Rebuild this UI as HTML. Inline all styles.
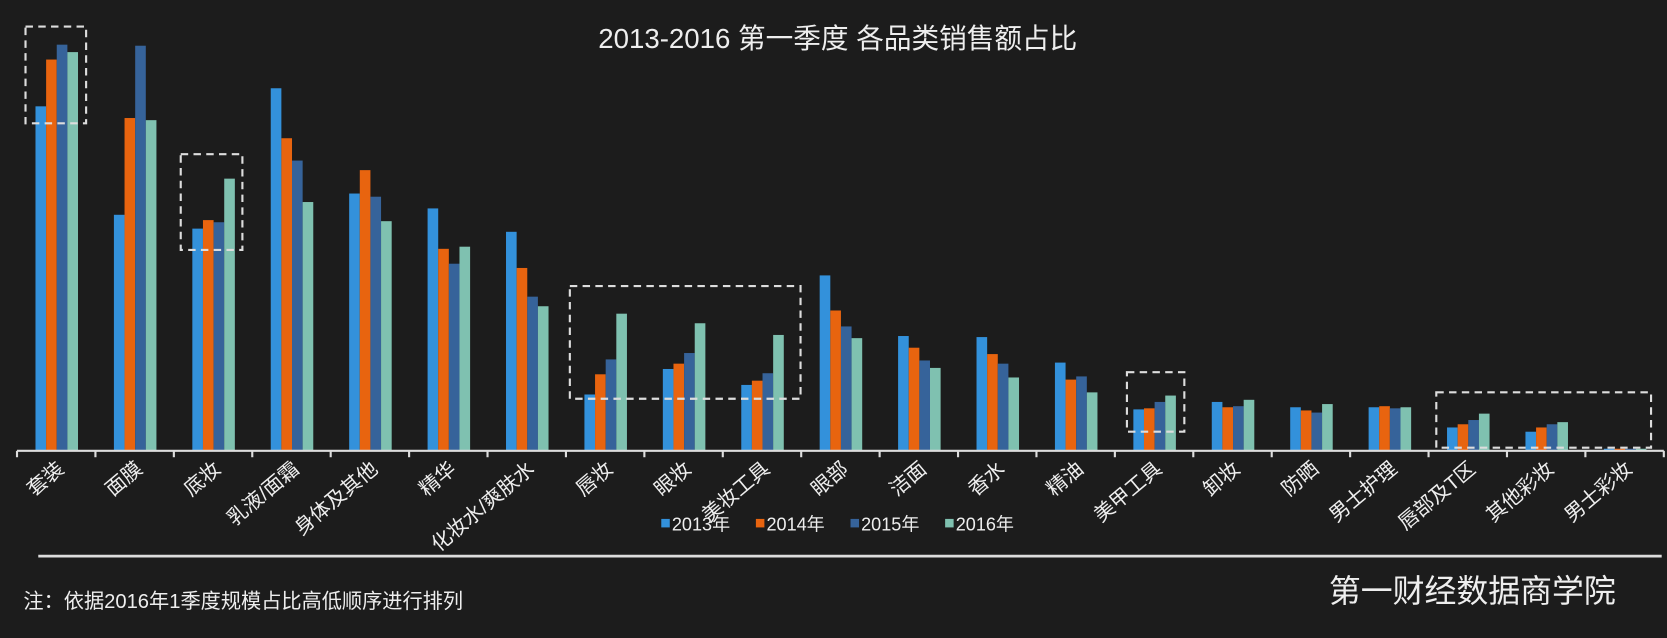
<!DOCTYPE html>
<html><head><meta charset="utf-8"><style>
html,body{margin:0;padding:0;background:#1c1c1c;}
svg{display:block;}
text{font-family:"Liberation Sans","Noto Sans CJK SC",sans-serif;fill:#eee;}
</style></head><body>
<svg width="1667" height="638" viewBox="0 0 1568 600" preserveAspectRatio="none" xmlns="http://www.w3.org/2000/svg">
<rect width="1568" height="600" fill="#1c1c1c"/>
<text x="788" y="45" font-size="26" text-anchor="middle">2013-2016 第一季度 各品类销售额占比</text>
<g id="bars"></g>
<g stroke="#ddd" stroke-width="2" stroke-dasharray="7,5" fill="none">
<rect x="24" y="25" width="57" height="91"/>
<rect x="170" y="145" width="58" height="90"/>
<rect x="536" y="269" width="217" height="106"/>
<rect x="1060" y="350" width="54" height="56"/>
<rect x="1351" y="369" width="202" height="52"/>
</g>
<line x1="16" y1="424" x2="1565" y2="424" stroke="#ddd" stroke-width="2"/>
<g id="ticks"></g>
<g id="labels"></g>
<g font-size="17">
<rect x="622" y="488" width="8" height="8" fill="#3391db"/><text x="632" y="499">2013年</text>
<rect x="711" y="488" width="8" height="8" fill="#e8640f"/><text x="721" y="499">2014年</text>
<rect x="800" y="488" width="8" height="8" fill="#36639a"/><text x="810" y="499">2015年</text>
<rect x="889" y="488" width="8" height="8" fill="#7fc1b0"/><text x="899" y="499">2016年</text>
</g>
<line x1="36" y1="523" x2="1563" y2="523" stroke="#ddd" stroke-width="2.5"/>
<text x="22" y="572" font-size="19">注：依据2016年1季度规模占比高低顺序进行排列</text>
<text x="1250" y="566" font-size="30">第一财经数据商学院</text>
<script>
var d=[["套装",100,56,42,49],["面膜",202,111,43,113],["底妆",215,207,209,168],["乳液/面霜",83,130,151,190],["身体及其他",182,160,185,208],["精华",196,234,248,232],["化妆水/爽肤水",218,252,279,288],["唇妆",371,352,338,295],["眼妆",347,342,332,304],["美妆工具",362,358,351,315],["眼部",259,292,307,318],["洁面",316,327,339,346],["香水",317,333,342,355],["精油",341,357,354,369],["美甲工具",385,384,378,372],["卸妆",378,383,382,376],["防晒",383,386,388,380],["男士护理",383,382,384,383],["唇部及T区",402,399,395,389],["其他彩妆",406,402,399,397],["男士彩妆",422,422,422,422]];
var c=["#3391db","#e8640f","#36639a","#7fc1b0"],ns="http://www.w3.org/2000/svg",sp=(1565-16)/21;
var B=document.getElementById("bars"),T=document.getElementById("ticks"),L=document.getElementById("labels");
function el(t,a,p){var e=document.createElementNS(ns,t);for(var k in a)e.setAttribute(k,a[k]);p.appendChild(e);return e;}
for(var i=0;i<=21;i++)el("line",{x1:16+i*sp,y1:424,x2:16+i*sp,y2:430,stroke:"#ddd","stroke-width":2},T);
d.forEach(function(r,i){var cx=16+sp*(i+0.5)+0.5;
for(var j=0;j<4;j++)el("rect",{x:cx-20+j*10,y:r[j+1],width:10,height:424-r[j+1],fill:c[j]},B);
var t=el("text",{x:cx+8,y:443,"font-size":19,"text-anchor":"end",transform:"rotate(-40 "+(cx+8)+" 443)"},L);t.textContent=r[0];});
</script>
</svg>
</body></html>
